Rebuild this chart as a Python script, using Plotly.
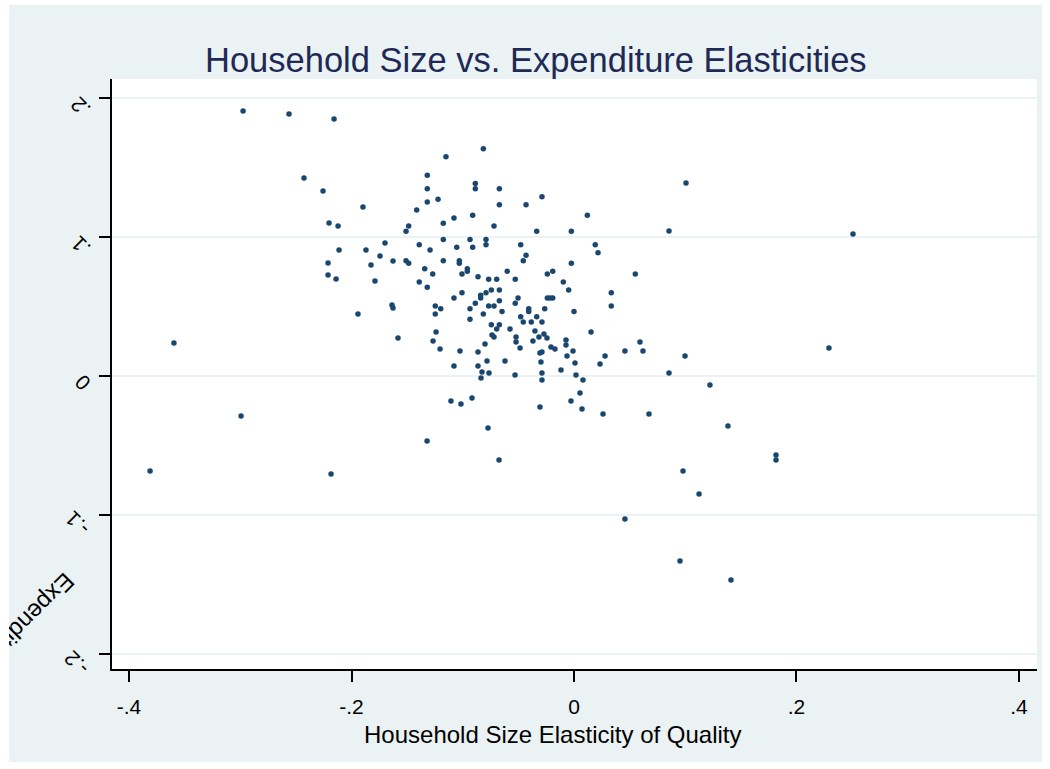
import plotly.graph_objects as go

# Household size elasticity of quality (x) vs. expenditure elasticity (y)
size_elasticity = [
    -0.0815, -0.1151, -0.1319, -0.1319, -0.0887, -0.0887, -0.0671, -0.1222, -0.1319, -0.0288,
    -0.0671, -0.0431, -0.1414, -0.0911, -0.1079, 0.0120, -0.1175, -0.1486, -0.1510, -0.0719,
    -0.0335, -0.0024, -0.1175, -0.0935, -0.0791, -0.0791, -0.0911, -0.1054, -0.1391, -0.1294,
    -0.0479, 0.0191, 0.0216, -0.0431, -0.0456, -0.0024, 0.0551, -0.1510, -0.1486, -0.1342,
    -0.1270, -0.1175, -0.1031, -0.1031, -0.0959, -0.0959, -0.1007, -0.0863, -0.0767, -0.0695,
    -0.0600, -0.0528, -0.0240, -0.0191, -0.0096, -0.0048, -0.1391, -0.1319, -0.0743, -0.0671,
    -0.0791, -0.0839, -0.0839, -0.1007, -0.1079, -0.0887, -0.0671, -0.0503, -0.0528, -0.0240,
    -0.0216, -0.0191, 0.0335, 0.0335, -0.1247, -0.1247, -0.1198, -0.0935, -0.0767, -0.0719,
    -0.0647, -0.0479, -0.0407, -0.0407, -0.0335, -0.0263, 0.0000, -0.0935, -0.0815, -0.0743,
    -0.0671, -0.0695, -0.0575, -0.0456, -0.0384, -0.0288,
    -0.2975, -0.2562, -0.2157, -0.2427, -0.2256, -0.1897, -0.2202, -0.2121, -0.1699, -0.1870,
    -0.2112, -0.1744, -0.1627, -0.2211, -0.1825, -0.2211, -0.2139, -0.1789, -0.1636, -0.1627,
    -0.1942, -0.1582, -0.3596, -0.2993, -0.3811, -0.2184,
    0.1007, 0.0854, 0.2508, 0.0153,
    -0.0351, -0.1240, -0.1267, -0.0315, -0.0270, -0.0737, -0.0243, -0.0521, -0.0521, -0.0369,
    -0.0719, 0.2292, 0.0593, -0.0485, -0.0288, -0.0072, -0.0009, 0.0279, -0.0800, -0.1025,
    -0.1204, -0.0863, 0.0458, 0.0620, 0.0998, -0.0072, -0.0171, -0.0207, -0.0063, -0.0306,
    -0.0620, -0.0863, -0.0297, 0.0234, 0.0009, -0.1079, -0.0782, -0.0827, -0.0764, -0.0288,
    -0.0530, -0.0117, 0.0854, 0.0018, -0.0836, 0.1222, -0.0288, 0.0081, -0.1106, -0.1016,
    -0.0917, -0.0306, -0.0027, 0.0054, 0.0072, 0.0261, 0.0674, 0.1384, -0.0773, -0.1321,
    -0.0674, 0.0980, 0.1124, 0.0458, 0.1816, 0.1816, 0.0953, 0.1411,
]
expenditure_elasticity = [
    0.1635, 0.1578, 0.1444, 0.1347, 0.1386, 0.1347, 0.1347, 0.1271, 0.1252, 0.1290,
    0.1232, 0.1232, 0.1194, 0.1156, 0.1137, 0.1156, 0.1099, 0.1079, 0.1041, 0.1079,
    0.1041, 0.1041, 0.0983, 0.0983, 0.0983, 0.0945, 0.0926, 0.0926, 0.0945, 0.0906,
    0.0945, 0.0945, 0.0887, 0.0868, 0.0829, 0.0811, 0.0734, 0.0829, 0.0811, 0.0772,
    0.0734, 0.0829, 0.0829, 0.0811, 0.0772, 0.0753, 0.0734, 0.0714, 0.0696, 0.0696,
    0.0753, 0.0696, 0.0734, 0.0753, 0.0676, 0.0619, 0.0676, 0.0638, 0.0619, 0.0619,
    0.0599, 0.0581, 0.0561, 0.0599, 0.0561, 0.0523, 0.0542, 0.0561, 0.0523, 0.0561,
    0.0561, 0.0561, 0.0599, 0.0504, 0.0504, 0.0446, 0.0484, 0.0484, 0.0504, 0.0504,
    0.0465, 0.0427, 0.0484, 0.0465, 0.0427, 0.0484, 0.0465, 0.0408, 0.0446, 0.0369,
    0.0369, 0.0338, 0.0338, 0.0388, 0.0388, 0.0388,
    0.1906, 0.1885, 0.1849, 0.1424, 0.1331, 0.1216, 0.1101, 0.1079, 0.0957, 0.0906,
    0.0906, 0.0863, 0.0827, 0.0813, 0.0799, 0.0727, 0.0698, 0.0683, 0.0511, 0.0489,
    0.0446, 0.0273, 0.0237, -0.0288, -0.0683, -0.0705,
    0.1388, 0.1043, 0.1022, 0.0317,
    0.0324, 0.0317, 0.0252, 0.0281, 0.0302, 0.0295, 0.0273, 0.0281, 0.0245, 0.0252,
    0.0281, 0.0201, 0.0245, 0.0201, 0.0173, 0.0259, 0.0180, 0.0144, 0.0230, 0.0180,
    0.0194, 0.0173, 0.0180, 0.0180, 0.0144, 0.0223, 0.0194, 0.0209, 0.0144, 0.0165,
    0.0108, 0.0072, 0.0101, 0.0086, 0.0094, 0.0072, 0.0108, 0.0029, 0.0022, 0.0022,
    0.0007, 0.0043, 0.0022, 0.0007, -0.0014, -0.0065, -0.0029, -0.0029, -0.0180, -0.0201,
    -0.0158, -0.0223, -0.0180, -0.0122, -0.0237, -0.0273, -0.0273, -0.0360, -0.0374, -0.0468,
    -0.0604, -0.0683, -0.0849, -0.1029, -0.0568, -0.0604, -0.1331, -0.1468,
]

x_ticks = [-0.4, -0.2, 0, 0.2, 0.4]
x_tick_text = ["-.4", "-.2", "0", ".2", ".4"]
y_ticks = [-0.2, -0.1, 0, 0.1, 0.2]
y_tick_text = ["-.2", "-.1", "0", ".1", ".2"]

BG = "#eaf2f3"
NAVY = "#1a476f"
FONT = "Liberation Sans, Arial, sans-serif"

# figure geometry (pixels)
W, H = 1033, 757
ML, MR, MT, MB = 103, 5, 74, 93
PW, PH = W - ML - MR, H - MT - MB
X_RANGE = [-0.4153, 0.4162]
Y_RANGE = [-0.2108, 0.2137]


def px_to_paper(px, py):
    return (px - ML) / PW, (H - MB - py) / PH


fig = go.Figure()
fig.add_trace(go.Scatter(
    x=size_elasticity, y=expenditure_elasticity, mode="markers",
    marker=dict(color=NAVY, size=5.5, line=dict(width=0)),
    hoverinfo="skip", showlegend=False,
))

annotations = []

# rotated y tick labels, set just left of each tick
for val, txt in zip(y_ticks, y_tick_text):
    ypix = MT + (Y_RANGE[1] - val) / (Y_RANGE[1] - Y_RANGE[0]) * PH
    cx = 73 if txt == "0" else (71 if len(txt) == 2 else 68)
    cy = ypix + (7 if txt == "0" else 9)
    ax, ay = px_to_paper(cx, cy)
    annotations.append(dict(
        text=txt, xref="paper", yref="paper", x=ax, y=ay,
        xanchor="center", yanchor="middle", textangle=-135,
        showarrow=False, font=dict(size=21, color="black"),
    ))

tx, ty = px_to_paper(527, 55)
annotations.append(dict(
    text="Household Size vs. Expenditure Elasticities", xref="paper", yref="paper",
    x=tx, y=ty, xanchor="center", yanchor="middle",
    showarrow=False, font=dict(size=34.5, color="#1e2a55"),
))
xx, xy = px_to_paper(544, 729)
annotations.append(dict(
    text="Household Size Elasticity of Quality", xref="paper", yref="paper",
    x=xx, y=xy, xanchor="center", yanchor="middle",
    showarrow=False, font=dict(size=24, color="black"),
))
yx, yy = px_to_paper(-58, 692)
annotations.append(dict(
    text="Expenditure Elasticity of Quality", xref="paper", yref="paper",
    x=yx, y=yy, xanchor="center", yanchor="middle", textangle=135,
    showarrow=False, font=dict(size=24, color="black"),
))

fig.update_layout(
    width=W, height=H,
    margin=dict(l=ML, r=MR, t=MT, b=MB),
    paper_bgcolor=BG, plot_bgcolor="white",
    font=dict(family=FONT, color="black", size=20),
    showlegend=False,
    xaxis=dict(
        range=X_RANGE, tickvals=x_ticks, ticktext=x_tick_text,
        showgrid=False, zeroline=False, showline=True, linecolor="black", linewidth=2,
        ticks="outside", ticklen=11, tickwidth=2, tickcolor="black",
        tickfont=dict(size=21), ticklabelstandoff=7, fixedrange=True,
    ),
    yaxis=dict(
        range=Y_RANGE, tickvals=y_ticks, showticklabels=False,
        showgrid=True, gridcolor=BG, gridwidth=2, zeroline=False,
        showline=True, linecolor="black", linewidth=2,
        ticks="outside", ticklen=11, tickwidth=2, tickcolor="black",
        fixedrange=True,
    ),
    annotations=annotations,
)

offset_js = (
    "var d=document.getElementById('{plot_id}');"
    "d.style.position='absolute';d.style.left='9px';d.style.top='5px';"
)
fig.write_html("out.html", post_script=offset_js)
